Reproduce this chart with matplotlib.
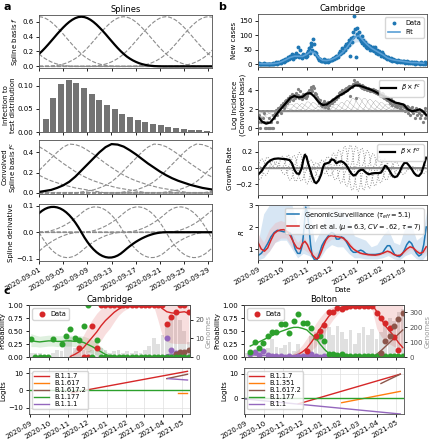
import numpy as np
import pandas as pd
import matplotlib
matplotlib.use("Agg")
import matplotlib.pyplot as plt
import matplotlib.dates as mdates

W, H = 429, 440

RED, ORANGE, BROWN, GREEN, PURPLE = "#d62728", "#ff7f0e", "#8c564b", "#2ca02c", "#9467bd"
BLUE = "#1f77b4"

# ---------------- panel a: splines ----------------
# cubic spline basis, values at offsets 0, 0.5, ..., 14 days from its knot
spline_half = [0.667, 0.662, 0.648, 0.626, 0.597, 0.562, 0.522, 0.479, 0.434, 0.386,
               0.339, 0.292, 0.247, 0.205, 0.167, 0.133, 0.105, 0.081, 0.061, 0.044,
               0.031, 0.021, 0.013, 0.008, 0.004, 0.002, 0.001, 0.0, 0.0]
# derivative of the basis, values at offsets 0, -0.5, ..., -14 days (mirrored with sign flip)
deriv_half = [0.0, 0.0193, 0.0364, 0.0514, 0.0641, 0.0747, 0.0831, 0.0893, 0.0933, 0.0951,
              0.0948, 0.0922, 0.0875, 0.0805, 0.0714, 0.0616, 0.0525, 0.0441, 0.0364, 0.0295,
              0.0233, 0.0179, 0.0131, 0.0091, 0.0058, 0.0033, 0.0015, 0.0004, 0.0]
# convolved basis, values at offsets -7 ... 25 days from its knot
conv_shape = [0.01, 0.02, 0.03, 0.05, 0.075, 0.11, 0.16, 0.22, 0.28, 0.34, 0.40, 0.45, 0.48,
              0.475, 0.455, 0.42, 0.38, 0.335, 0.29, 0.25, 0.21, 0.175, 0.145, 0.12, 0.10,
              0.08, 0.065, 0.05, 0.04, 0.03, 0.02, 0.01, 0.0]
spline_knots = [-14, -7, 0, 14, 21, 28, 35]
highlight_knot = 7
delay_dist = [0.028, 0.074, 0.103, 0.112, 0.106, 0.095, 0.083, 0.069, 0.058, 0.050, 0.039,
              0.033, 0.027, 0.021, 0.018, 0.015, 0.011, 0.009, 0.007, 0.005, 0.004, 0.003]
spline_tick_labels = ["2020-09-01", "2020-09-05", "2020-09-09", "2020-09-13",
                      "2020-09-17", "2020-09-21", "2020-09-25", "2020-09-29"]

# ---------------- panel b: Cambridge cases ----------------
cases = [2, 4, 1, 3, 2, 0, 3, 5, 2, 1,
         1, 2, 1, 1, 3, 1, 2, 1, 1, 4,
         3, 5, 7, 4, 2, 8, 6, 9, 5, 12,
         10, 14, 8, 17, 12, 20, 15, 24, 18, 30,
         22, 27, 35, 20, 28, 32, 25, 40, 29, 60,
         33, 24, 50, 30, 26, 22, 35, 28, 31, 25,
         38, 30, 45, 55, 40, 62, 75, 50, 88, 70,
         42, 35, 38, 28, 22, 20, 14, 20, 12, 10,
         15, 11, 18, 9, 14, 12, 8, 16, 11, 15,
         14, 20, 15, 22, 18, 25, 22, 28, 30, 26,
         40, 35, 45, 38, 55, 42, 50, 62, 48, 70,
         58, 75, 66, 85, 30, 90, 78, 110, 95, 165,
         120, 25, 125, 105, 95, 110, 88, 80, 98, 72,
         85, 65, 78, 70, 60, 55, 68, 58, 62, 50,
         55, 48, 60, 52, 45, 58, 40, 48, 42, 35,
         45, 38, 30, 42, 28, 35, 25, 30, 22, 26,
         20, 24, 18, 15, 22, 16, 12, 18, 14, 10,
         15, 12, 9, 14, 11, 8, 13, 10, 7, 12,
         9, 11, 6, 8, 10, 5, 9, 7, 4, 8,
         6, 9, 5, 7, 3, 6, 8, 4, 6, 5,
         3, 7, 4, 6, 2, 5, 8, 3, 4]
fit_days = list(range(0, 210, 5))
fit_cases = [3, 2, 2, 2, 3, 5, 10, 17, 24, 28, 28, 27, 34, 44, 40, 24, 14, 13, 16, 22,
             30, 42, 58, 78, 95, 98, 82, 68, 56, 48, 40, 32, 22, 17, 14, 12, 10, 8, 6, 6, 5, 4]
log_inc_days = list(range(0, 210, 5)) + [208]
log_inc = [1.2, 0.7, 0.48, 0.6, 1.1, 1.7, 2.2, 2.7, 3.2, 3.4, 3.25, 3.3, 3.65, 3.7, 3.3,
           2.75, 2.45, 2.5, 2.8, 3.1, 3.4, 3.65, 3.9, 4.25, 4.5, 4.5, 4.35, 4.2, 4.05, 3.85,
           3.6, 3.4, 3.15, 2.9, 2.7, 2.6, 2.5, 2.0, 1.8, 1.85, 2.0, 1.7, 1.4]
baseline = 1.8
b_knots = list(range(-14, 211, 7))
betas = [-0.7, -0.67, -1.2, -1.45, -0.9, 0.0, 0.8, 1.55, 1.7, 1.65, 2.05, 1.9, 1.05, 0.7,
         1.05, 1.5, 1.95, 2.35, 2.85, 3.0, 2.85, 2.6, 2.3, 1.9, 1.55, 1.2, 0.95, 0.8, 0.1,
         0.0, 0.2, -0.35, -0.65]
growth_days = [0, 4, 8, 12, 16, 20, 25, 30, 35, 39, 42, 45, 48, 51, 54, 56, 58, 60, 62, 64,
               67, 70, 72, 75, 78, 80, 82, 85, 88, 91, 94, 97, 100, 103, 106, 109, 112, 115,
               118, 121, 124, 127, 130, 133, 137, 141, 145, 149, 152, 155, 157, 159, 162, 166,
               169, 172, 175, 178, 181, 184, 187, 190, 193, 196, 199, 202, 205, 207, 208]
growth = [-0.08, -0.04, 0.02, 0.07, 0.10, 0.115, 0.12, 0.115, 0.11, 0.10, 0.06, -0.02,
          -0.065, -0.07, 0.0, 0.1, 0.165, 0.14, 0.06, 0.0, -0.1, -0.17, -0.185, -0.15, -0.08,
          0.0, 0.05, 0.06, 0.07, 0.11, 0.1, 0.06, 0.08, 0.085, 0.07, 0.04, -0.01, -0.06, -0.09,
          -0.08, -0.04, -0.02, -0.02, -0.05, -0.075, -0.065, -0.06, -0.06, -0.055, -0.01, 0.03,
          0.02, -0.02, -0.09, -0.11, -0.1, -0.05, 0.02, 0.065, 0.065, 0.03, -0.01, -0.06, -0.09,
          -0.095, -0.06, 0.03, 0.1, 0.13]
r_gs_days = [0, 4, 8, 12, 16, 20, 24, 28, 32, 36, 40, 43, 46, 49, 52, 55, 57, 59, 61, 63,
             65, 67, 70, 73, 76, 79, 82, 85, 88, 91, 94, 97, 100, 103, 106, 109, 112, 115, 118,
             121, 124, 127, 130, 133, 136, 140, 145, 150, 154, 157, 160, 163, 166, 169, 172,
             175, 178, 181, 184, 187, 190, 193, 196, 199, 202, 205, 208]
r_gs = [0.7, 0.8, 1.0, 1.25, 1.55, 1.75, 1.85, 1.82, 1.78, 1.78, 1.72, 1.4, 1.0, 0.8, 0.8,
        1.2, 2.0, 2.9, 2.7, 2.0, 1.2, 0.7, 0.5, 0.5, 0.8, 1.15, 1.35, 1.5, 1.65, 1.75, 1.7,
        1.45, 1.45, 1.55, 1.5, 1.35, 1.15, 0.95, 0.85, 0.85, 0.9, 0.95, 0.9, 0.8, 0.75, 0.75,
        0.75, 0.78, 0.82, 1.0, 1.15, 1.15, 0.95, 0.75, 0.68, 0.65, 0.75, 0.95, 1.2, 1.35,
        1.25, 1.0, 0.8, 0.68, 0.75, 1.2, 2.0]
r_cori_days = [0, 4, 8, 12, 16, 20, 24, 28, 32, 36, 40, 44, 48, 52, 55, 58, 61, 64, 68, 72,
               75, 78, 81, 84, 87, 90, 95, 100, 105, 110, 114, 118, 122, 126, 130, 135, 140,
               145, 150, 155, 160, 164, 168, 172, 176, 180, 184, 188, 192, 196, 200, 204, 208]
r_cori = [1.3, 1.0, 0.9, 1.05, 1.4, 1.7, 1.82, 1.87, 1.88, 1.8, 1.6, 1.3, 1.05, 1.0, 1.25,
          1.35, 1.2, 0.95, 0.7, 0.55, 0.6, 0.85, 1.15, 1.4, 1.55, 1.6, 1.58, 1.55, 1.5, 1.35,
          1.15, 1.0, 0.9, 0.82, 0.78, 0.75, 0.73, 0.72, 0.75, 0.82, 0.9, 0.85, 0.75, 0.7, 0.72,
          0.85, 1.0, 1.1, 1.05, 0.9, 0.8, 0.85, 1.1]
r_band_days = list(range(0, 211, 7))
r_gs_lo = [0.5, 0.6, 0.9, 1.3, 1.4, 1.4, 1.0, 0.6, 0.8, 0.7, 0.5, 0.6, 1.0, 1.2, 1.1, 1.1,
           0.8, 0.6, 0.6, 0.55, 0.55, 0.55, 0.6, 0.7, 0.55, 0.5, 0.7, 0.8, 0.55, 0.5, 0.8]
r_gs_hi = [1.3, 2.6, 3.0, 3.0, 3.0, 3.0, 3.0, 2.0, 3.0, 3.0, 1.3, 1.8, 2.6, 2.8, 2.8, 2.7,
           2.4, 1.6, 1.5, 1.4, 1.1, 1.2, 1.6, 1.9, 1.3, 1.2, 2.0, 2.2, 1.4, 1.6, 3.0]
r_cori_lo = [0.9, 0.7, 0.9, 1.3, 1.5, 1.5, 1.1, 0.8, 1.0, 0.8, 0.5, 0.7, 1.25, 1.45, 1.45,
             1.4, 1.15, 0.9, 0.75, 0.7, 0.67, 0.67, 0.75, 0.8, 0.68, 0.63, 0.8, 1.0, 0.82,
             0.72, 0.95]
r_cori_hi = [1.7, 1.3, 1.9, 2.2, 2.3, 2.2, 1.7, 1.3, 1.6, 1.2, 0.8, 1.0, 1.55, 1.75, 1.7,
             1.6, 1.4, 1.05, 0.9, 0.82, 0.78, 0.78, 0.88, 0.98, 0.82, 0.78, 1.0, 1.2, 1.0,
             0.92, 1.3]

# ---------------- panel c: lineages ----------------
c_dates = pd.date_range("2020-09-02", periods=37, freq="7D")
nan = np.nan
camb_genomes = [2, 2, 2, 1, 1, 2, 4, 3, 8, 11, 5, 6, 4, 3, 4, 3, 5, 4, 2, 3, 4, 2, 3, 2, 3,
                2, 4, 6, 10, 7, 12, 18, 22, 25, 20, 14, 8]
camb_green = [0.32, 0.30, 0.29, 0.30, 0.31, 0.31, 0.30, 0.30, 0.31, 0.31, 0.30, 0.30, 0.28,
              0.24, 0.20, 0.15, 0.10, 0.05, 0.02, 0.01] + [0.0] * 17
camb_green_lo = [0.2, 0.2, 0.19, 0.2, 0.21, 0.21, 0.2, 0.2, 0.21, 0.21, 0.2, 0.19, 0.16,
                 0.11, 0.07, 0.04, 0.02, 0.01, 0.0, 0.0] + [0.0] * 17
camb_green_hi = [0.45, 0.42, 0.4, 0.41, 0.42, 0.42, 0.41, 0.41, 0.42, 0.42, 0.41, 0.41, 0.4,
                 0.37, 0.33, 0.27, 0.2, 0.12, 0.06, 0.03] + [0.01] * 17
camb_red = [nan] * 9 + [0.01, 0.05, 0.10, 0.18, 0.28, 0.38, 0.48, 0.60, 0.70, 0.78, 0.86,
                        0.92, 0.96, 0.98, 0.99, 1.0, 1.0, 1.0, 1.0, 1.0, 1.0, 0.93, 0.87, 0.85,
                        0.84, 0.86, 0.87, 0.84]
camb_red_lo = [nan] * 9 + [0, 0, 0, 0.03, 0.08, 0.15, 0.22, 0.32, 0.45, 0.55, 0.68, 0.80,
                           0.88, 0.93, 0.96, 0.98, 0.98, 0.98, 0.98, 0.98, 0.7, 0.4, 0.3,
                           0.27, 0.26, 0.26, 0.26, 0.25]
camb_red_hi = [nan] * 9 + [0.05, 0.15, 0.28, 0.42, 0.58, 0.72, 0.84, 0.93, 0.97, 0.99] + [1.0] * 18
camb_brown = [nan] * 32 + [0.0, 0.03, 0.06, 0.10, 0.13]
camb_purple = [nan] * 30 + [0.0, 0.04, 0.06, 0.04, 0.02, 0.01, 0.0]
camb_green_pts = [0.34, 0, 0, 0, 0, 0.34, nan, 0.25, 0.40, 0.53, 0.37, 0.33, 0.6, 1.0, 0,
                  0.33] + [0.0] * 21
camb_red_pts = [nan] * 11 + [0.17, 0, 0, 0.6, 0.17] + [1.0] * 15 + [0.64, 0.76, 0.86, 1.0, 1.0, 0.87]
camb_purple_pts = [nan] * 31 + [0.36, 0.14, 0.08, 0.02, 0.0, 0.0]
camb_brown_pts = [nan] * 33 + [0.06, 0.09, 0.10, 0.13]

bolt_genomes = [30, 40, 35, 50, 30, 60, 120, 70, 60, 80, 100, 40, 90, 30, 60, 140, 170, 120,
                210, 200, 150, 210, 170, 120, 180, 90, 160, 200, 150, 190, 120, 170, 220, 260,
                240, 300, 320]
bolt_green = [nan, 0.21, 0.25, 0.29, 0.33, 0.37, 0.41, 0.45, 0.49, 0.52, 0.55, 0.57, 0.57,
              0.55, 0.52, 0.44, 0.37, 0.25, 0.15, 0.07, 0.04, 0.03, 0.01] + [0.0] * 14
bolt_red = [nan] * 10 + [0.0, 0.02, 0.05, 0.1, 0.17, 0.28, 0.4, 0.54, 0.66, 0.78, 0.86, 0.92,
                         0.96, 0.98, 0.99, 1.0, 1.0, 1.0, 1.0, 1.0, 0.88, 0.74, 0.6, 0.5, 0.4,
                         0.28, 0.18]
bolt_red_lo = [nan] * 10 + [0, 0, 0, 0.02, 0.06, 0.12, 0.2, 0.32, 0.45, 0.6, 0.72, 0.82, 0.9,
                            0.95, 0.97, 0.98, 0.98, 0.98, 0.98, 0.9, 0.55, 0.4, 0.3, 0.25, 0.2,
                            0.18, 0.15]
bolt_red_hi = [nan] * 10 + [0.03, 0.08, 0.14, 0.24, 0.36, 0.5, 0.64, 0.76, 0.86, 0.93, 0.97,
                            0.99] + [1.0] * 15
bolt_brown = [nan] * 29 + [0.0, 0.05, 0.12, 0.2, 0.28, 0.36, 0.44, 0.52]
bolt_purple = [nan, 0.04, 0.04, 0.035, 0.03, 0.03, 0.03, 0.025, 0.025, 0.02, 0.02, 0.02,
               0.02, 0.015, 0.015, 0.01, 0.01, 0.01, 0.005, 0.005] + [0.0] * 17
bolt_green_pts = [nan, 0.09, 0.28, 0.17, 0.26, 0.41, 0.48, 0.48, 0.64, 0.64, 0.46, 0.70,
                  0.83, 0.65, 0.66, 0.55, 0.39, 0.41, 0.30, 0.05, 0.05, 0.03, 0.05] + [0.02] * 14
bolt_red_pts = [nan] * 14 + [0.12, nan, 0.40, 0.50, 0.62, 0.87, 0.87, 0.94, 0.92, 0.97, 0.98,
                             0.98, 0.99, 0.98, 0.99, 0.98, 0.85, 0.75, 0.66, 0.55, 0.39, 0.13, nan]
bolt_brown_pts = [nan] * 31 + [0.08, 0.30, 0.40, 0.60, 0.74, 0.85]
bolt_purple_pts = [nan, 0.05, 0.09, 0.03, 0.12, 0.03, 0.02, 0.01, 0.02, 0.0, 0.02, 0.0, 0.01,
                   0.02, 0.01, 0.06, 0.01, 0.0, 0.01, 0.0, 0.0, 0.0, 0.0] + [0.0] * 14

camb_lineages = ["B.1.1.7", "B.1.617", "B.1.617.2", "B.1.177", "B.1.1.1"]
camb_logit_start = ["2020-11-06", "2021-04-25", "2021-04-07", "2020-08-30", "2021-04-09"]
camb_logit_end = ["2021-05-10", "2021-05-10", "2021-05-10", "2021-05-14", "2021-05-10"]
camb_logit_v0 = [-1.3, -1.7, 6.8, 0.0, 6.8]
camb_logit_v1 = [11.0, -1.7, 9.3, 0.0, 6.0]
bolt_lineages = ["B.1.1.7", "B.1.351", "B.1.617.2", "B.1.177", "B.1.1"]
bolt_logit_start = ["2020-11-25", "2021-02-03", "2021-04-07", "2020-08-30", "2020-09-01"]
bolt_logit_end = ["2021-05-08", "2021-05-08", "2021-05-08", "2021-05-14", "2021-05-08"]
bolt_logit_v0 = [-2.3, -1.8, 6.0, 0.0, -0.3]
bolt_logit_v1 = [9.8, 2.8, 9.8, 0.0, -6.4]
lineage_colors = [RED, ORANGE, BROWN, GREEN, PURPLE]


plt.rcParams.update({
    "font.size": 5, "axes.linewidth": 0.6, "axes.edgecolor": "0.3",
    "xtick.major.width": 0.6, "ytick.major.width": 0.6,
    "xtick.major.size": 2.5, "ytick.major.size": 2.5,
    "xtick.labelsize": 5, "ytick.labelsize": 5,
    "xtick.major.pad": 1.5, "ytick.major.pad": 1.5,
    "axes.labelpad": 1.5, "legend.fontsize": 4.8, "axes.titlesize": 6,
})


def box(l, t, r, b):
    return [l / W, 1 - b / H, (r - l) / W, (b - t) / H]


def spline_curve(x, knot, half, odd=False):
    half = np.asarray(half)
    steps = np.arange(0, 14.5, 0.5)
    offs = np.r_[-steps[::-1], steps[1:]]
    vals = np.r_[half[::-1], -half[1:] if odd else half[1:]]
    return np.interp(np.asarray(x) - knot, offs, vals, left=0, right=0)


def conv_curve(x, knot):
    return np.interp(np.asarray(x) - knot, np.arange(-7, 26), conv_shape, left=0, right=0)


def to_dates(start, days):
    return pd.Timestamp(start) + pd.to_timedelta(np.asarray(days), unit="D")


fig = plt.figure(figsize=(W / 100, H / 100), dpi=100)

# ---- a ----
xa = np.arange(0, 29.01, 0.5)
xd = np.arange(0, 30)
dash = dict(ls="--", color="0.55", lw=0.8)

ax = fig.add_axes(box(39, 15, 212, 68))
for k in spline_knots:
    ax.plot(xa, spline_curve(xa, k, spline_half), **dash)
ax.axhline(0, **dash)
ax.plot(xa, spline_curve(xa, highlight_knot, spline_half), color="k", lw=1.6)
ax.set_xlim(0, 28.6)
ax.set_ylim(-0.022, 0.69)
ax.set_yticks([0, 0.2, 0.4, 0.6])
ax.set_xticks(range(0, 29, 4))
ax.set_xticklabels([])
ax.set_ylabel("Spline basis $f$")
ax.set_title("Splines", pad=2)

ax = fig.add_axes(box(39, 78, 212, 132))
ax.bar(np.arange(1, len(delay_dist) + 1), delay_dist, width=0.8, color="0.45")
ax.set_xlim(0.13, 22.68)
ax.set_ylim(0, 0.117)
ax.set_yticks([0, 0.05, 0.10])
ax.set_xticks(np.linspace(0.13, 0.13 + 7 * 3.147, 8))
ax.set_xticklabels([])
ax.set_ylabel("Infection to\ntest distribution")

ax = fig.add_axes(box(39, 140, 212, 194))
for k in spline_knots:
    ax.plot(xd, conv_curve(xd, k), **dash)
ax.axhline(0.005, **dash)
ax.plot(xd, conv_curve(xd, highlight_knot), color="k", lw=1.6)
ax.set_xlim(0, 28.6)
ax.set_ylim(-0.01, 0.52)
ax.set_yticks([0, 0.2, 0.4])
ax.set_xticks(range(0, 29, 4))
ax.set_xticklabels([])
ax.set_ylabel("Convolved\nSpline basis $f^c$")

ax = fig.add_axes(box(39, 204, 212, 261))
for k in spline_knots:
    ax.plot(xa, spline_curve(xa, k, deriv_half, odd=True), **dash)
ax.axhline(0, **dash)
ax.plot(xa, spline_curve(xa, highlight_knot, deriv_half, odd=True), color="k", lw=1.6)
ax.set_xlim(0, 28.6)
ax.set_ylim(-0.108, 0.106)
ax.set_yticks([-0.1, 0, 0.1])
ax.set_xticks(range(0, 29, 4))
ax.set_xticklabels(spline_tick_labels, rotation=30, ha="right", rotation_mode="anchor")
ax.set_ylabel("Spline derivative")

# ---- b ----
b_start = pd.Timestamp("2020-09-01")
b_days = np.arange(len(cases))
b_dates = to_dates(b_start, b_days)
b_xlim = (b_start, b_start + pd.Timedelta(days=209))
cases_arr = np.array(cases, dtype=float)


def month_axis(ax, labels=False):
    ax.set_xlim(*b_xlim)
    ax.xaxis.set_major_locator(mdates.MonthLocator())
    ax.xaxis.set_major_formatter(mdates.DateFormatter("%Y-%m"))
    if labels:
        plt.setp(ax.get_xticklabels(), rotation=30, ha="right", rotation_mode="anchor")
    else:
        ax.set_xticklabels([])


ax = fig.add_axes(box(258, 14, 427, 67))
fit_x = to_dates(b_start, fit_days)
fit_arr = np.array(fit_cases, dtype=float)
ax.fill_between(fit_x, fit_arr * 0.8, fit_arr * 1.2, color="#a8cbe8", alpha=0.5, lw=0)
ax.plot(b_dates, cases_arr, "o", ms=1.8, color=BLUE, label="Data")
ax.plot(fit_x, fit_arr, color="#5a9fd6", lw=1.2, label="Fit")
ax.set_ylim(-9, 173)
ax.set_yticks([0, 50, 100, 150])
month_axis(ax)
ax.set_ylabel("New cases")
ax.set_title("Cambridge", pad=2)
ax.legend(loc="upper right", handlelength=1.8, borderpad=0.4)

ax = fig.add_axes(box(258, 77, 427, 132))
pos = cases_arr > 0
ax.plot(b_dates[pos], np.log(cases_arr[pos]), "o", ms=1.3, color="0.5")
for knot, beta in zip(b_knots, betas):
    ax.plot(b_dates, baseline + beta * conv_curve(b_days, knot),
            color="0.5", lw=0.35, ls=(0, (1.5, 1.2)))
ax.axhline(baseline, color="0.55", lw=1)
ax.plot(to_dates(b_start, log_inc_days), log_inc, color="k", lw=1.6, label=r"$\beta \times f^c$")
ax.set_ylim(-0.4, 5.4)
ax.set_yticks([0, 2, 4])
month_axis(ax)
ax.set_ylabel("Log Incidence\n(Convolved basis)")
ax.legend(loc="upper right", handlelength=2.2)

ax = fig.add_axes(box(258, 141, 427, 195))
for knot, beta in zip(b_knots, betas):
    ax.plot(b_dates, beta * spline_curve(b_days, knot, deriv_half, odd=True),
            ls=":", color="0.55", lw=0.7)
ax.axhline(0, color="0.55", lw=1)
ax.plot(to_dates(b_start, growth_days), growth, color="k", lw=1.6,
        label=r"$\beta \times f^{c\prime}$")
ax.set_ylim(-0.33, 0.335)
ax.set_yticks([-0.2, 0, 0.2])
month_axis(ax)
ax.set_ylabel("Growth Rate")
ax.legend(loc="upper right", handlelength=2.2)

ax = fig.add_axes(box(258, 205, 427, 260))
band_x = to_dates(b_start, r_band_days)
ax.fill_between(band_x, r_gs_lo, r_gs_hi, color="#c6dcf0", alpha=0.7, lw=0)
ax.fill_between(band_x, r_cori_lo, r_cori_hi, color="#f4a6a6", alpha=0.3, lw=0)
ax.plot(to_dates(b_start, r_gs_days), r_gs, color=BLUE, lw=1.1,
        label=r"GenomicSurveillance ($\tau_{eff} = 5.1$)")
ax.plot(to_dates(b_start, r_cori_days), r_cori, color=RED, lw=1.1,
        label=r"Cori et al. ($\mu = 6.3$, $CV = .62$, $\tau = 7$)")
ax.set_ylim(0.5, 3.0)
ax.set_yticks([1, 2, 3])
month_axis(ax, labels=True)
ax.set_ylabel(r"$R$")
ax.set_xlabel("Date", labelpad=1)
ax.legend(loc="upper right", fontsize=4.8, handlelength=1.8, borderpad=0.3, labelspacing=0.3)

# ---- c ----
c_xlim = (pd.Timestamp("2020-08-30"), pd.Timestamp("2021-05-14"))


def prob_panel(rect, title, genomes, gmax, gticks, bands, lines, points):
    ax = fig.add_axes(rect)
    axg = ax.twinx()
    axg.bar(c_dates, genomes, width=6, color="0.8", alpha=0.6)
    axg.set_ylim(0, gmax)
    axg.set_yticks(gticks)
    axg.set_ylabel("Genomes", color="0.6", labelpad=1)
    axg.tick_params(labelcolor="0.3")
    ax.set_zorder(axg.get_zorder() + 1)
    ax.patch.set_visible(False)
    for lo, hi, c in bands:
        ax.fill_between(c_dates, lo, hi, color=c, alpha=0.15, lw=0)
    for vals, c in lines:
        ax.plot(c_dates, vals, color=c, lw=1)
    for vals, c in points:
        ax.plot(c_dates, vals, "o", color=c, ms=3.3, lw=0)
    ax.plot([], [], "o", color=RED, ms=3.3, label="Data")
    ax.legend(loc="upper left", handletextpad=0.3, borderpad=0.4)
    ax.set_ylim(0, 1)
    ax.set_yticks([0, 0.25, 0.5, 0.75, 1.0])
    ax.set_xlim(*c_xlim)
    ax.xaxis.set_major_locator(mdates.MonthLocator())
    ax.set_xticklabels([])
    ax.set_ylabel("Probability")
    ax.set_title(title, pad=2)


def logit_panel(rect, lineages, starts, ends, v0, v1, ylim):
    ax = fig.add_axes(rect)
    ax.grid(True, color="0.88", lw=0.5)
    ax.set_axisbelow(True)
    for name, s, e, a, b, c in zip(lineages, starts, ends, v0, v1, lineage_colors):
        ax.plot(pd.to_datetime([s, e]), [a, b], color=c, lw=1, label=name)
    ax.set_xlim(*c_xlim)
    ax.set_ylim(*ylim)
    ax.xaxis.set_major_locator(mdates.MonthLocator())
    ax.xaxis.set_major_formatter(mdates.DateFormatter("%Y-%m"))
    plt.setp(ax.get_xticklabels(), rotation=30, ha="right", rotation_mode="anchor")
    ax.set_ylabel("Logits")
    ax.legend(loc="upper left", handlelength=2.2, labelspacing=0.15, borderpad=0.3)


prob_panel(box(29, 305, 190, 357), "Cambridge", camb_genomes, 28, [0, 10, 20],
           [(camb_green_lo, camb_green_hi, GREEN), (camb_red_lo, camb_red_hi, RED)],
           [(camb_green, GREEN), (camb_red, RED), (camb_brown, BROWN), (camb_purple, PURPLE)],
           [(camb_red_pts, RED), (camb_purple_pts, PURPLE), (camb_brown_pts, BROWN),
            (camb_green_pts, GREEN)])
logit_panel(box(29, 368, 190, 414), camb_lineages, camb_logit_start, camb_logit_end,
            camb_logit_v0, camb_logit_v1, (-13.5, 12.9))

prob_panel(box(244, 305, 404, 357), "Bolton", bolt_genomes, 350, [0, 100, 200, 300],
           [(bolt_red_lo, bolt_red_hi, RED)],
           [(bolt_green, GREEN), (bolt_red, RED), (bolt_brown, BROWN), (bolt_purple, PURPLE)],
           [(bolt_purple_pts, PURPLE), (bolt_green_pts, GREEN), (bolt_red_pts, RED),
            (bolt_brown_pts, BROWN)])
logit_panel(box(244, 368, 404, 414), bolt_lineages, bolt_logit_start, bolt_logit_end,
            bolt_logit_v0, bolt_logit_v1, (-6.4, 12.3))

fig.text(3 / W, 1 - 2 / H, "a", fontsize=8, weight="bold", va="top")
fig.text(218 / W, 1 - 2 / H, "b", fontsize=8, weight="bold", va="top")
fig.text(3 / W, 1 - 286 / H, "c", fontsize=8, weight="bold", va="top")

fig.savefig("out.png", dpi=100)
